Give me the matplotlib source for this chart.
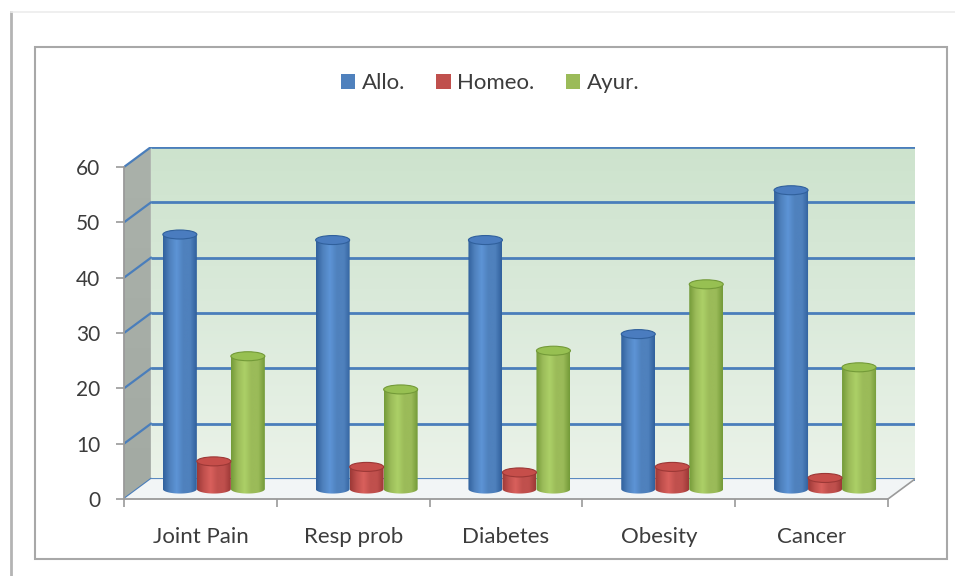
import numpy as np
import matplotlib
matplotlib.use("Agg")
import matplotlib.pyplot as plt
from matplotlib.patches import Polygon, Ellipse, Rectangle, Patch
from matplotlib.lines import Line2D
from matplotlib.colors import LinearSegmentedColormap

# DATA
categories = ["Joint Pain", "Resp prob", "Diabetes", "Obesity", "Cancer"]
series_names = ["Allo.", "Homeo.", "Ayur."]
allo = [46, 45, 45, 28, 54]
homeo = [5, 4, 3, 4, 2]
ayur = [24, 18, 25, 37, 22]
y_ticks = [0, 10, 20, 30, 40, 50, 60]

# STYLE
plt.rcParams['font.family'] = ['Lato', 'DejaVu Sans']
text_color = "#3c3c3c"
grid_blue = "#4a7ebb"
axis_gray = "#9a9a9a"
# (base, dark edge, highlight, cap)
series_colors = [
    ("#4f81bd", "#30609c", "#5d94d6", "#4a7cbf"),
    ("#c0504d", "#9c3836", "#d9605c", "#c64e4a"),
    ("#9bbb59", "#739a38", "#acd067", "#97c052"),
]
series_values = [allo, homeo, ayur]

W, H = 955, 576
fig = plt.figure(figsize=(W / 100, H / 100), dpi=100)

# 3D depth of the box in data units
dx = 0.176
dy = 3.6
ncat = len(categories)
ymax = y_ticks[-1]

# front plane: x 0..ncat -> px 124..888, y 0..60 -> px 499..167
px_per_cat = (888 - 124) / ncat
px_per_unit = (499 - 167) / ymax
ax = fig.add_axes([124 / W, (H - 499) / H,
                   (ncat + dx) * px_per_cat / W, (ymax + dy) * px_per_unit / H])


def gradient_fill(patch, colors, extent, horizontal, zorder):
    cmap = LinearSegmentedColormap.from_list("g", colors)
    grad = np.linspace(0, 1, 256)
    img = grad[None, :] if horizontal else grad[:, None]
    im = ax.imshow(img, cmap=cmap, extent=extent, aspect='auto', origin='lower',
                   interpolation='bilinear', zorder=zorder)
    patch.set_transform(ax.transData)
    im.set_clip_path(patch)
    return im


# back wall
back = Polygon([(dx, dy), (ncat + dx, dy), (ncat + dx, ymax + dy), (dx, ymax + dy)],
               closed=True, fill=False, edgecolor='none')
ax.add_patch(back)
gradient_fill(back, ["#ebf3e9", "#dbeadb", "#cde3cd"], [dx, ncat + dx, dy, ymax + dy], False, 1)

# side wall
side = Polygon([(0, 0), (dx, dy), (dx, ymax + dy), (0, ymax)], closed=True,
               fill=False, edgecolor='none')
ax.add_patch(side)
gradient_fill(side, ["#a3aaa3", "#aab1aa"], [0, dx, 0, ymax + dy], False, 1)

# floor
floor = Polygon([(0, 0), (ncat, 0), (ncat + dx, dy), (dx, dy)], closed=True,
                facecolor="#f2f5f6", edgecolor='none', zorder=3)
ax.add_patch(floor)
ax.plot([ncat, ncat + dx], [0, dy], color=axis_gray, lw=1.2, zorder=3)

# gridlines on back and side wall
for v in y_ticks:
    ax.plot([dx, ncat + dx], [v + dy, v + dy], color=grid_blue, lw=2, zorder=2,
            solid_capstyle='butt')
    ax.plot([0, dx], [v, v + dy], color=grid_blue, lw=1.6, zorder=2)

# cylinders
bar_w = 34 / px_per_cat
cap_h = 9 / px_per_unit
yb = dy / 2
t = np.linspace(np.pi, 2 * np.pi, 60)
for j, values in enumerate(series_values):
    base, dark, light, cap = series_colors[j]
    for i, val in enumerate(values):
        xc = i + 0.5 + (j - 1) * bar_w + dx / 2
        yt = val + yb
        xs = list(xc + bar_w / 2 * np.cos(t)) + [xc + bar_w / 2, xc - bar_w / 2]
        ys = list(yb + cap_h / 2 * np.sin(t)) + [yt, yt]
        body = Polygon(np.column_stack([xs, ys]), closed=True, fill=False,
                       edgecolor='none', zorder=5)
        ax.add_patch(body)
        gradient_fill(body, [dark, base, light, base, base, dark],
                      [xc - bar_w / 2, xc + bar_w / 2, yb - cap_h, yt], True, 5)
        ax.add_patch(Ellipse((xc, yt), bar_w, cap_h, facecolor=cap,
                             edgecolor=dark, lw=0.8, zorder=6))

ax.set_xlim(0, ncat + dx)
ax.set_ylim(0, ymax + dy)
ax.patch.set_visible(False)

for s in ['top', 'right']:
    ax.spines[s].set_visible(False)
ax.spines['left'].set_bounds(0, ymax)
ax.spines['bottom'].set_bounds(0, ncat)
for s in ['left', 'bottom']:
    ax.spines[s].set_color(axis_gray)
    ax.spines[s].set_linewidth(1.3)
    ax.spines[s].set_zorder(4)

ax.set_yticks(y_ticks)
ax.tick_params(axis='y', length=6, width=1.2, color=axis_gray, pad=11,
               labelsize=15, labelcolor=text_color)
ax.set_xticks(range(ncat + 1))
ax.set_xticklabels([])
ax.set_xticks(np.arange(ncat) + 0.5, minor=True)
ax.set_xticklabels(categories, minor=True)
ax.tick_params(axis='x', which='major', length=6, width=1.2, color=axis_gray)
ax.tick_params(axis='x', which='minor', length=0, pad=20, labelsize=16,
               labelcolor=text_color)

# legend
handles = [Patch(facecolor=c[0], edgecolor='none', label=n)
           for c, n in zip(series_colors, series_names)]
fig.legend(handles=handles, loc='center', bbox_to_anchor=(490 / W, 1 - 83 / H),
           ncol=3, frameon=False, handlelength=0.65, handleheight=0.65,
           handletextpad=0.3, columnspacing=1.4, fontsize=16, labelcolor=text_color)

# frames
fig.add_artist(Rectangle((35 / W, 1 - 559 / H), (947 - 35) / W, (559 - 47) / H,
                         transform=fig.transFigure, fill=False,
                         edgecolor="#a8a8a8", lw=1.5))
fig.add_artist(Line2D([11 / W, 11 / W], [0, 1 - 12 / H], transform=fig.transFigure,
                      color="#b4b4b4", lw=2))
fig.add_artist(Line2D([11 / W, 1], [1 - 12 / H, 1 - 12 / H], transform=fig.transFigure,
                      color="#ececec", lw=1.2))

fig.savefig("out.png", dpi=100, facecolor="white")
